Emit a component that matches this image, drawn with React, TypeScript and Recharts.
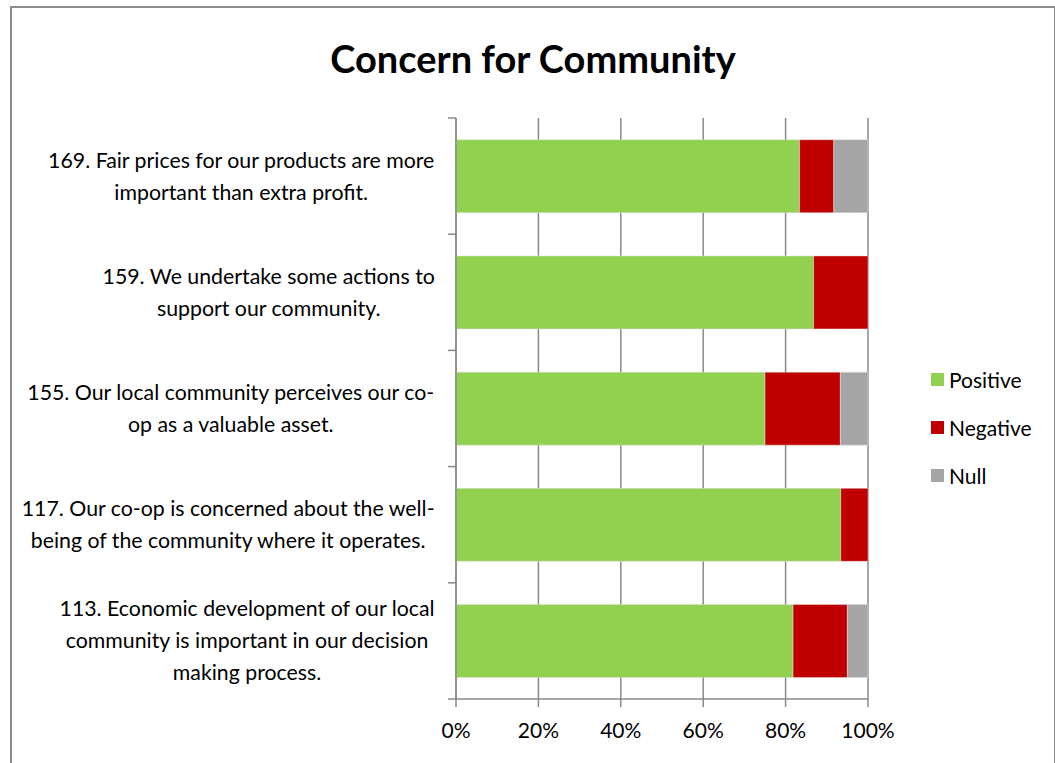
import React from 'react'
import { BarChart, Bar, XAxis, YAxis, CartesianGrid } from 'recharts'

const FONT = 'Lato, "Open Sans", sans-serif'

const QUESTIONS = [
  ['169. Fair prices for our products are more', 'important than extra profit.'],
  ['159. We undertake some actions to', 'support our community.'],
  ['155. Our local community perceives our co-', 'op as a valuable asset.'],
  ['117. Our co-op is concerned about the well-', 'being of the community where it operates.'],
  ['113. Economic development of our local', 'community is important in our decision', 'making process.'],
]
const POSITIVE = [83.4, 86.8, 75.0, 93.4, 81.8]
const NEGATIVE = [8.3, 13.2, 18.3, 6.6, 13.2]
const NULLS = [8.3, 0, 6.7, 0, 5.0]
const X_TICKS = [0, 20, 40, 60, 80, 100]

const SERIES = [
  { key: 'positive', name: 'Positive', color: '#92D050' },
  { key: 'negative', name: 'Negative', color: '#C00000' },
  { key: 'nul', name: 'Null', color: '#A5A5A5' },
]

const data = QUESTIONS.map((lines, i) => ({
  q: lines.join('\n'),
  positive: POSITIVE[i],
  negative: NEGATIVE[i],
  nul: NULLS[i],
}))

const W = 1055
const H = 763
const TOP = 118
const BOTTOM = 64
const LEFT = 456
const RIGHT = 187
const BAND = (H - TOP - BOTTOM) / QUESTIONS.length

const LABEL_SIZE = 21.3
const LINE_H = 32

let ctx: CanvasRenderingContext2D | null = null
function textWidth(s: string) {
  if (!ctx) ctx = document.createElement('canvas').getContext('2d')
  if (!ctx) return s.length * 9
  ctx.font = `${LABEL_SIZE}px ${FONT}`
  return ctx.measureText(s).width
}

// label block centred on itself, widest line ending just left of the axis
function QuestionTick(props: any) {
  const { x, y, payload, index } = props
  const lines: string[] = String(payload.value).split('\n')
  const maxW = Math.max(...lines.map(textWidth))
  const cx = 435 - maxW / 2
  const y0 = y - ((lines.length - 1) * LINE_H) / 2
  return (
    <g>
      <line x1={x} x2={x + 8} y1={y - BAND / 2} y2={y - BAND / 2} stroke="#888" strokeWidth={1.5} />
      {index === QUESTIONS.length - 1 && (
        <line x1={x} x2={x + 8} y1={y + BAND / 2} y2={y + BAND / 2} stroke="#888" strokeWidth={1.5} />
      )}
      <text textAnchor="middle" fontSize={LABEL_SIZE} fontFamily={FONT} fill="#000">
        {lines.map((l, i) => (
          <tspan key={i} x={cx} y={y0 + i * LINE_H} dy="0.35em">{l}</tspan>
        ))}
      </text>
    </g>
  )
}

function LegendBox() {
  return (
    <div style={{ position: 'absolute', left: 931, top: 355, fontFamily: FONT, fontSize: 21 }}>
      {SERIES.map((s) => (
        <div key={s.key} style={{ display: 'flex', alignItems: 'center', height: 48 }}>
          <span style={{ width: 13, height: 13, background: s.color, marginRight: 5, display: 'inline-block' }} />
          <span>{s.name}</span>
        </div>
      ))}
    </div>
  )
}

export default function App() {
  return (
    <div style={{ position: 'absolute', left: 0, top: 0, width: W, height: H, background: '#fff', overflow: 'hidden' }}>
      <div style={{ position: 'absolute', left: 10, top: 6, width: 1042, height: 800, borderLeft: '2px solid #8c8c8c', borderTop: '2px solid #8c8c8c', borderRight: '2px solid #8c8c8c' }} />
      <div style={{ position: 'absolute', left: 0, top: 35, width: 1066, textAlign: 'center', fontFamily: FONT, fontWeight: 'bold', fontSize: 38 }}>
        Concern for Community
      </div>
      <BarChart
        width={W}
        height={H}
        data={data}
        layout="vertical"
        barCategoryGap="18.7%"
        margin={{ top: TOP, right: RIGHT, bottom: 0, left: 0 }}
        style={{ position: 'absolute', left: 0, top: 0 }}
      >
        <CartesianGrid horizontal={false} stroke="#888" strokeWidth={1.5} />
        <XAxis
          type="number"
          domain={[0, 100]}
          ticks={X_TICKS}
          height={BOTTOM}
          tickFormatter={(v) => `${v}%`}
          stroke="#888"
          strokeWidth={1.5}
          tickSize={8}
          tick={{ fontSize: 21, fill: '#000', fontFamily: FONT, dy: 14 }}
          interval={0}
        />
        <YAxis
          type="category"
          dataKey="q"
          width={LEFT}
          stroke="#888"
          strokeWidth={1.5}
          tickLine={false}
          tick={<QuestionTick />}
          interval={0}
        />
        {SERIES.map((s) => (
          <Bar key={s.key} dataKey={s.key} name={s.name} stackId="a" fill={s.color} stroke="#e0e0e0" strokeWidth={0.5} isAnimationActive={false} />
        ))}
      </BarChart>
      <LegendBox />
    </div>
  )
}
